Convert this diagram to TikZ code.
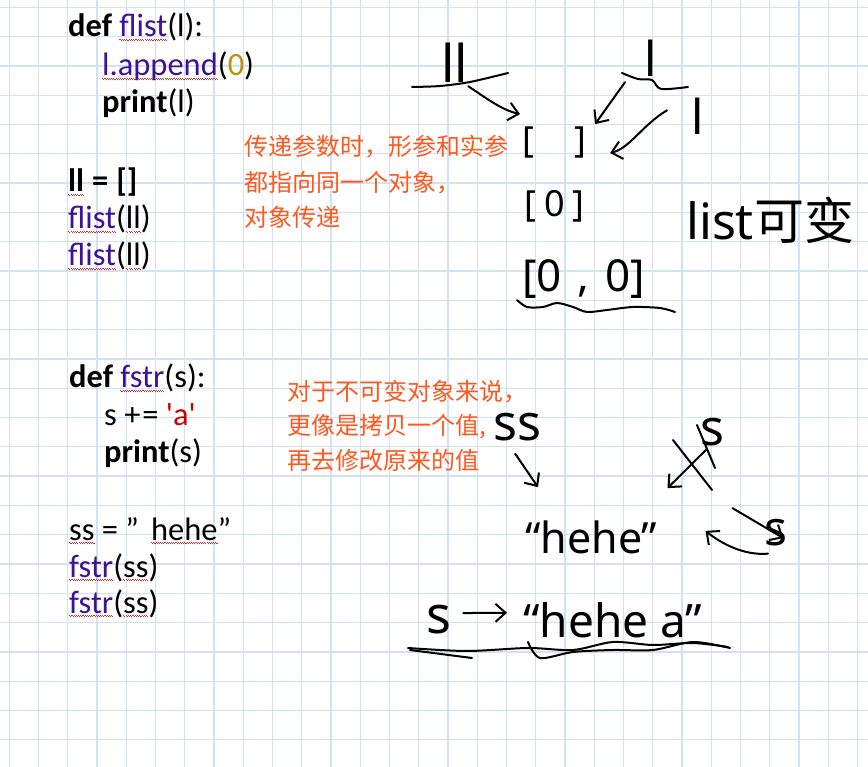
\documentclass[tikz,border=0pt]{standalone}
\usepackage{fontspec}
\usetikzlibrary{arrows.meta}

\newfontfamily\codefont{Carlito}
\newfontfamily\cjk{Noto Sans CJK SC}
\newfontfamily\handfont{Noto Sans}

\definecolor{gridblue}{RGB}{208,226,244}
\definecolor{fncpurple}{RGB}{62,18,150}
\definecolor{numgold}{RGB}{190,145,10}
\definecolor{strred}{RGB}{200,0,0}
\definecolor{spellred}{RGB}{220,40,40}
\definecolor{noteorange}{RGB}{255,88,30}

% red spell-check squiggle under a word
\newcommand\spellwave[1]{\setbox0=\hbox{#1}\rlap{\color{spellred}\hbox to\wd0{\xleaders\hbox{\rule[-3pt]{1.1pt}{1.1pt}\rule[-4.3pt]{1.1pt}{1.1pt}}\hfil}}\box0\relax}

\begin{document}
\begin{tikzpicture}[x=1pt, y=-1pt,
    code/.style={anchor=base west, inner sep=0pt, font=\codefont\fontsize{32.5}{38}\selectfont},
    note/.style={anchor=base west, inner sep=0pt, text=noteorange, font=\cjk\fontsize{24}{30}\selectfont},
    hand/.style={anchor=base west, inner sep=0pt, font=\handfont\fontsize{#1}{#1}\selectfont},
    hand/.default=48,
    gridline/.style={gridblue, line width=1.3pt},
    pen/.style={line width=2pt, line cap=round, line join=round},
    handarrow/.style={pen, -{Straight Barb[length=10pt, width=18pt]}}]

    % Paper
    \fill[white] (0,0) rectangle (868,767);
    \useasboundingbox (0,0) rectangle (868,767);
    \foreach \gx in {0,...,29} \draw[gridline] ({9.3+29.25*\gx},0) -- ({9.3+29.25*\gx},767);
    \foreach \gy in {0,...,25} \draw[gridline] (0,{7.3+29.3*\gy}) -- (868,{7.3+29.3*\gy});

    % Code: list argument
    \node[code] (deflist) at (68,37) {\textbf{def} \textcolor{fncpurple}{\spellwave{flist}}(l):};
    \node[code] (appendl) at (102,76) {\textcolor{fncpurple}{\spellwave{l.append}}(\textcolor{numgold}{0})};
    \node[code] (printl) at (102,113) {\textbf{print}(l)};
    \node[code] (assignl) at (68,192) {\textbf{\spellwave{ll}\hspace{8pt}=\hspace{8pt}[]}};
    \node[code] (calll1) at (68,229) {\textcolor{fncpurple}{\spellwave{flist}}(\spellwave{ll})};
    \node[code] (calll2) at (68,266) {\textcolor{fncpurple}{\spellwave{flist}}(\spellwave{ll})};

    % Code: string argument
    \node[code] (defstr) at (69,388) {\textbf{def} \textcolor{fncpurple}{\spellwave{fstr}}(s):};
    \node[code] (adds) at (104,425) {s +\hspace{2pt}= \textcolor{strred}{'a'}};
    \node[code] (prints) at (104,462) {\textbf{print}(s)};
    \node[code] (assigns) at (69,540) {\spellwave{ss} = ”\hspace{12pt}\spellwave{hehe}”};
    \node[code] (calls1) at (69,577) {\textcolor{fncpurple}{\spellwave{fstr}}(\spellwave{ss})};
    \node[code] (calls2) at (69,613) {\textcolor{fncpurple}{\spellwave{fstr}}(\spellwave{ss})};

    % Notes
    \node[note] (mutnote1) at (244,156) {传递参数时，形参和实参};
    \node[note] (mutnote2) at (244,192) {都指向同一个对象，};
    \node[note] (mutnote3) at (244,227) {对象传递};
    \node[note] (immnote1) at (287,400) {对于不可变对象来说，};
    \node[note] (immnote2) at (287,435) {更像是拷贝一个值,};
    \node[note] (immnote3) at (287,469) {再去修改原来的值};

    % Handwriting: list is mutable
    \node[hand=52] (hll) at (441,83) {ll};
    \node[hand] (hlup) at (644,77) {l};
    \node[hand] (hlright) at (691,135) {l};
    \node[hand=36] (emptyl) at (522,153) {[\hspace{40pt}]};
    \node[hand=36] (onel) at (524,217) {[\hspace{8pt}0\hspace{8pt}]};
    \node[hand=44] (twol) at (522,292) {[0\hspace{16pt},\hspace{16pt}0]};
    \node[hand=50] (listmut) at (686,240) {list{\cjk 可变}};

    \draw[pen] plot[smooth] coordinates {(412,87) (440,86) (470,82) (508,73)};
    \draw[pen] plot[smooth] coordinates {(622,73) (638,79) (652,80) (661,89) (688,87)};
    \draw[pen] plot[smooth] coordinates {(517,300) (527,307) (543,307) (557,303) (573,307) (587,312) (607,310) (633,307) (660,308) (675,312)};

    \draw[handarrow] ([shift={(0,3)}]hll.south east) .. controls +(18,12) and +(-18,-4) .. ([shift={(-2,-13)}]emptyl.north west);
    \draw[handarrow] ([shift={(-19,5)}]hlup.south west) -- ([shift={(9,-3)}]emptyl.north east);
    \draw[handarrow] ([shift={(-24,12)}]hlright.north west) .. controls +(-25,15) and +(20,-5) .. ([shift={(24,10)}]emptyl.east);

    % Handwriting: str is immutable
    \node[hand=50] (hss) at (493,440) {ss};
    \node[hand=50] (hscross) at (700,445) {s};
    \node[hand=43] (hehe) at (525,553) {“hehe”};
    \node[hand] (hsright) at (764,545) {s};
    \node[hand=52] (hsnew) at (426,633) {s};
    \node[hand=46] (hehea) at (523,637) {“hehe\hspace{12pt}a”};

    \draw[handarrow] ([shift={(-2,13)}]hss.south) -- ([shift={(13,-33)}]hehe.north west);
    \draw[handarrow] ([shift={(-5,3)}]hscross.south) -- ([shift={(10,-32)}]hehe.north east);
    \draw[pen] (673,440) -- (712,490);
    \draw[pen] (697,425) -- (715,468);
    \draw[handarrow] ([shift={(4,8)}]hsright.south west) .. controls +(-25,2) and +(15,12) .. ([shift={(48,-6)}]hehe.east);
    \draw[handarrow] ([shift={(75,-12)}]hehe.north east) -- ([shift={(-4,6)}]hsright.east);
    \draw[handarrow] ([shift={(12,-6)}]hsnew.east) -- ([shift={(-16,-7)}]hehea.west);

    \draw[pen] plot[smooth] coordinates {(408,648) (467,651) (528,648) (573,650) (613,642) (653,645) (693,643) (728,647)};
    \draw[pen] plot[smooth] coordinates {(528,642) (540,658) (573,652) (613,650) (653,650) (693,642) (730,648)};
    \draw[pen] (410,650) -- (472,658);
\end{tikzpicture}
\end{document}
